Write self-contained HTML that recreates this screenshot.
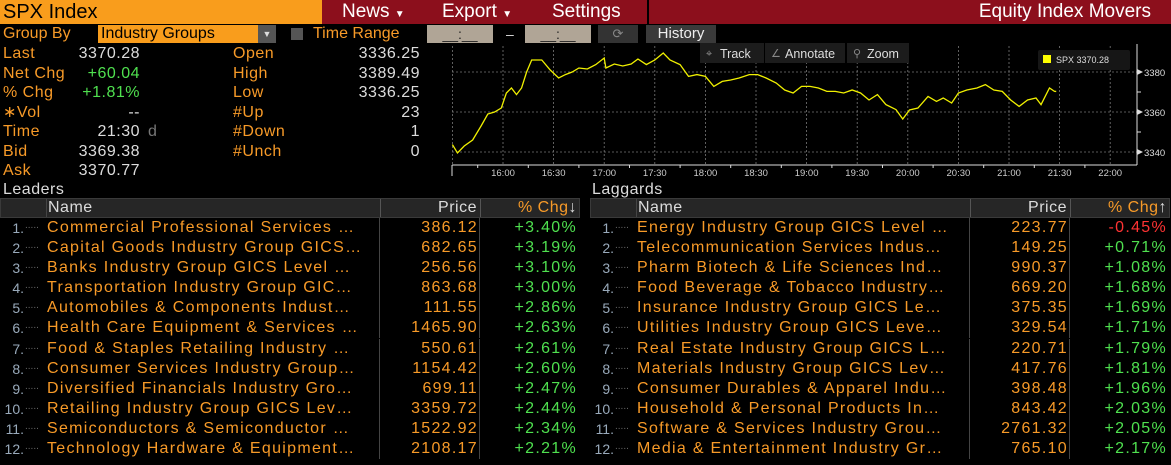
<!DOCTYPE html>
<html><head><meta charset="utf-8"><style>
*{box-sizing:border-box;margin:0;padding:0}
body{width:1171px;height:465px;background:#000;font-family:"Liberation Sans",sans-serif;position:relative;overflow:hidden;color:#f79a28}
.a{position:absolute;white-space:nowrap}
.o{color:#f79a28}.w{color:#dcdcdc}.g{color:#4fe04f}.r{color:#ff3333}
.btn{position:absolute;top:0;height:24px;background:#8c0f1c;color:#fff;font-size:19px;line-height:24px;padding-left:18px}
.st{font-size:16px;line-height:19.5px;letter-spacing:0.5px}
.tbl{position:absolute;top:198px;width:580px;font-size:16px;letter-spacing:1.3px}
.hd{height:20px;background:#262626;position:relative;border:1px solid #3a3a3a;letter-spacing:0.5px}
.row{height:20.1px;position:relative;line-height:20px}
.c{position:absolute;top:0;height:20px;white-space:nowrap;overflow:hidden}
</style></head><body>
<div class="a" style="left:0;top:0;width:322px;height:24px;background:#f99d1c;color:#000;font-size:20px;line-height:24px;padding-left:3px">SPX Index</div>
<div class="a" style="left:322px;top:0;width:849px;height:24px;background:#8c0f1c"></div>
<div class="btn" style="left:324px;width:107px">News <span style="font-size:10px">▼</span></div>
<div class="btn" style="left:434px;width:104px;padding-left:8px">Export <span style="font-size:10px">▼</span></div>
<div class="btn" style="left:541px;width:108px;padding-left:11px;border-right:2px solid #000">Settings</div>
<div class="a" style="right:20px;top:0;color:#fff;font-size:19px;line-height:24px">Equity Index Movers</div>

<div class="a" style="left:3px;top:24px;font-size:16px;line-height:20px">Group By</div>
<div class="a" style="left:98px;top:25px;width:160px;height:18px;background:#f99d1c;color:#000;font-size:16px;line-height:18px;padding-left:3px">Industry Groups</div>
<div class="a" style="left:258px;top:25px;width:18px;height:18px;background:#555;color:#ddd;font-size:9px;line-height:18px;text-align:center">▼</div>
<div class="a" style="left:291px;top:28px;width:12px;height:12px;background:#555"></div>
<div class="a" style="left:313px;top:24px;font-size:16px;line-height:20px">Time Range</div>
<div class="a" style="left:427px;top:25px;width:66px;height:18px;background:#b0a596;color:#222;font-size:14px;text-align:center;line-height:18px">__:__</div>
<div class="a w" style="left:506px;top:24px;font-size:14px;line-height:20px">–</div>
<div class="a" style="left:525px;top:25px;width:66px;height:18px;background:#b0a596;color:#222;font-size:14px;text-align:center;line-height:18px">__:__</div>
<div class="a" style="left:598px;top:25px;width:40px;height:18px;background:#333;color:#888;font-size:13px;text-align:center;line-height:18px">⟳</div>
<div class="a" style="left:646px;top:25px;width:70px;height:18px;background:#3a3a3a;color:#eee;font-size:15px;text-align:center;line-height:18px">History</div>

<div class="a st" style="left:3px;top:44px">Last<br>Net Chg<br>% Chg<br>∗Vol<br>Time<br>Bid<br>Ask</div>
<div class="a st" style="left:40px;top:44px;width:100px;text-align:right"><span class="w">3370.28</span><br><span class="g">+60.04</span><br><span class="g">+1.81%</span><br><span class="w">--</span><br><span class="w">21:30</span><br><span class="w">3369.38</span><br><span class="w">3370.77</span></div>
<div class="a st" style="left:148px;top:122px;color:#777">d</div>
<div class="a st" style="left:233px;top:44px">Open<br>High<br>Low<br>#Up<br>#Down<br>#Unch</div>
<div class="a st w" style="left:320px;top:44px;width:100px;text-align:right">3336.25<br>3389.49<br>3336.25<br>23<br>1<br>0</div>

<svg class="a" style="left:0;top:0" width="1171" height="190" id="chart"></svg>

<div class="a w" style="left:3px;top:181px;font-size:16px;letter-spacing:0.5px">Leaders</div>
<div class="a w" style="left:592px;top:181px;font-size:16px;letter-spacing:0.5px">Laggards</div>
<div class="tbl" id="lead" style="left:0"></div>
<div class="tbl" id="lag" style="left:590px"></div>

<script>
const times=["15:30","15:33","15:37","15:42","15:47","15:51","15:55","15:59","16:02","16:05","16:08","16:11","16:14","16:17","16:23","16:28","16:33","16:37","16:41","16:45","16:50","16:55","17:00","17:01","17:06","17:11","17:16","17:20","17:25","17:30","17:35","17:39","17:45","17:50","17:55","18:00","18:05","18:10","18:15","18:20","18:26","18:31","18:36","18:42","18:47","18:52","18:57","19:02","19:07","19:12","19:17","19:22","19:27","19:32","19:37","19:42","19:47","19:53","19:57","20:01","20:06","20:12","20:17","20:21","20:26","20:30","20:35","20:41","20:46","20:51","20:56","21:01","21:06","21:11","21:16","21:19","21:22","21:24","21:27","21:28"];
const prices=[3343.7,3339.5,3343,3346,3353,3359,3360,3362,3369.5,3372,3368.7,3372,3380,3386,3386,3381,3377,3378.7,3380,3382,3381.5,3383.7,3387,3382,3384,3383,3384,3386.5,3383.7,3386,3389.5,3386,3383.7,3377.8,3378.7,3377.8,3372.8,3375.3,3376,3377,3378.7,3378.7,3377,3374.5,3371,3369.5,3372.8,3372.8,3372,3370.3,3370.3,3369.5,3371,3369.5,3366,3368.7,3363.7,3361.2,3356.5,3361,3362,3367.8,3365.3,3367,3364.5,3369.5,3371,3372,3373.7,3371,3370.3,3366,3362.8,3366,3367,3363.7,3368.7,3372,3370.3,3370.28];
const xTicks=["16:00","16:30","17:00","17:30","18:00","18:30","19:00","19:30","20:00","20:30","21:00","21:30","22:00"];
const yTicks=[3340,3360,3380];
const mins=t=>{const[h,m]=t.split(":").map(Number);return h*60+m};
const X=t=>452.4+(mins(t)-930)*50.6/30;
const Y=v=>72-(v-3380)*2;
const s=document.getElementById('chart');const NS="http://www.w3.org/2000/svg";
function mk(tag,at,txt){const e=document.createElementNS(NS,tag);for(const k in at)e.setAttribute(k,at[k]);if(txt)e.textContent=txt;s.appendChild(e);return e}
let e;
xTicks.forEach(t=>{const x=X(t);
e=mk('line',{x1:x,x2:x,y1:46,y2:165,stroke:'#777','stroke-dasharray':'2,2','stroke-width':0.8});

e=mk('text',{x:x,y:176,fill:'#ccc','font-size':9.5,'text-anchor':'middle','font-family':'Liberation Sans'},t);
});
e=mk('line',{x1:X("15:30"),x2:X("15:30"),y1:46,y2:165,stroke:'#777','stroke-dasharray':'2,2','stroke-width':0.8});
yTicks.forEach(v=>{const y=Y(v);
e=mk('line',{x1:452,x2:1137,y1:y,y2:y,stroke:'#777','stroke-dasharray':'2,2','stroke-width':0.8});

e=mk('path',{d:`M1137 ${y-3}L1143 ${y}L1137 ${y+3}Z`,fill:'#ddd'});
e=mk('text',{x:1144,y:y+4,fill:'#ddd','font-size':9.5,'font-family':'Liberation Sans'},v);
});
[3350,3370].forEach(v=>{e=mk('line',{x1:1137,x2:1141,y1:Y(v),y2:Y(v),stroke:'#ddd'});});
e=mk('line',{x1:452,x2:1137,y1:165,y2:165,stroke:'#ddd'});

e=mk('line',{x1:1137,x2:1137,y1:44,y2:165,stroke:'#ddd'});

e=mk('line',{x1:452,x2:452,y1:165,y2:176,stroke:'#ddd'});
for(let m=945;m<=1320;m+=30){e=mk('line',{x1:X(Math.floor(m/60)+":"+(m%60)),x2:X(Math.floor(m/60)+":"+(m%60)),y1:165,y2:168,stroke:'#ddd'});}
e=mk('polyline',{points:times.map((t,i)=>X(t)+","+Y(prices[i])).join(" "),fill:'none',stroke:'#f0f000','stroke-width':1.3});

[["Track",700,64,"⌖"],["Annotate",765,80,"∠"],["Zoom",847,62,"⚲"]].forEach(([l,x,w,ic])=>{
e=mk('rect',{x:x,y:43,width:w,height:20,fill:'#1c1c1c'});

mk('text',{x:x+6,y:57,fill:'#888','font-size':11},ic);
mk('text',{x:x+20,y:58,fill:'#ddd','font-size':12.5,'font-family':'Liberation Sans'},l);});
e=mk('rect',{x:1038,y:50,width:92,height:20,fill:'#161616',rx:2});

mk('rect',{x:1043,y:55,width:8,height:8,fill:'#ffff00'});
mk('text',{x:1056,y:63,fill:'#ddd','font-size':9,'font-family':'Liberation Sans'},"SPX  3370.28");

const leadNames=["Commercial Professional Services ...","Capital Goods Industry Group GICS...","Banks Industry Group GICS Level ...","Transportation Industry Group GIC...","Automobiles & Components Indust...","Health Care Equipment & Services ...","Food & Staples Retailing Industry ...","Consumer Services Industry Group...","Diversified Financials Industry Gro...","Retailing Industry Group GICS Lev...","Semiconductors & Semiconductor ...","Technology Hardware & Equipment..."];
const leadPrice=["386.12","682.65","256.56","863.68","111.55","1465.90","550.61","1154.42","699.11","3359.72","1522.92","2108.17"];
const leadChg=["+3.40%","+3.19%","+3.10%","+3.00%","+2.86%","+2.63%","+2.61%","+2.60%","+2.47%","+2.44%","+2.34%","+2.21%"];
const lagNames=["Energy Industry Group GICS Level ...","Telecommunication Services Indus...","Pharm Biotech & Life Sciences Ind...","Food Beverage & Tobacco Industry...","Insurance Industry Group GICS Le...","Utilities Industry Group GICS Leve...","Real Estate Industry Group GICS L...","Materials Industry Group GICS Lev...","Consumer Durables & Apparel Indu...","Household & Personal Products In...","Software & Services Industry Grou...","Media & Entertainment Industry Gr..."];
const lagPrice=["223.77","149.25","990.37","669.20","375.35","329.54","220.71","417.76","398.48","843.42","2761.32","765.10"];
const lagChg=["-0.45%","+0.71%","+1.08%","+1.68%","+1.69%","+1.71%","+1.79%","+1.81%","+1.96%","+2.03%","+2.05%","+2.17%"];
function table(id,names,pr,ch,arrow){
const t=document.getElementById(id);
let h=`<div class="hd"><div class="c" style="left:45px;width:1px;height:18px;background:#444"></div><span class="c w" style="left:47px;line-height:18px">Name</span><div class="c" style="left:379px;width:1px;height:18px;background:#555"></div><span class="c w" style="right:102px;line-height:18px">Price</span><div class="c" style="left:479px;width:1px;height:18px;background:#555"></div><span class="c o" style="right:2px;line-height:18px">% Chg<span class="w">${arrow}</span></span></div>`;
names.forEach((n,i)=>{
h+=`<div class="row"><span class="c" style="left:0;width:46px;font-size:14px;color:#9ab;letter-spacing:0"><span style="position:absolute;right:22px;top:0">${i+1}.</span><span style="position:absolute;left:25px;top:-2px;color:#666;font-size:10px">.....</span></span><span class="c o" style="left:47px;width:330px">${n.replace('...','…')}</span><div class="c" style="left:379px;width:1px;height:20px;background:#444"></div><span class="c o" style="right:102px">${pr[i]}</span><div class="c" style="left:479px;width:1px;height:20px;background:#444"></div><span class="c ${ch[i][0]=='-'?'r':'g'}" style="right:3px">${ch[i]}</span></div>`;});
t.innerHTML=h;}
table('lead',leadNames,leadPrice,leadChg,'↓');
table('lag',lagNames,lagPrice,lagChg,'↑');
</script>
</body></html>
